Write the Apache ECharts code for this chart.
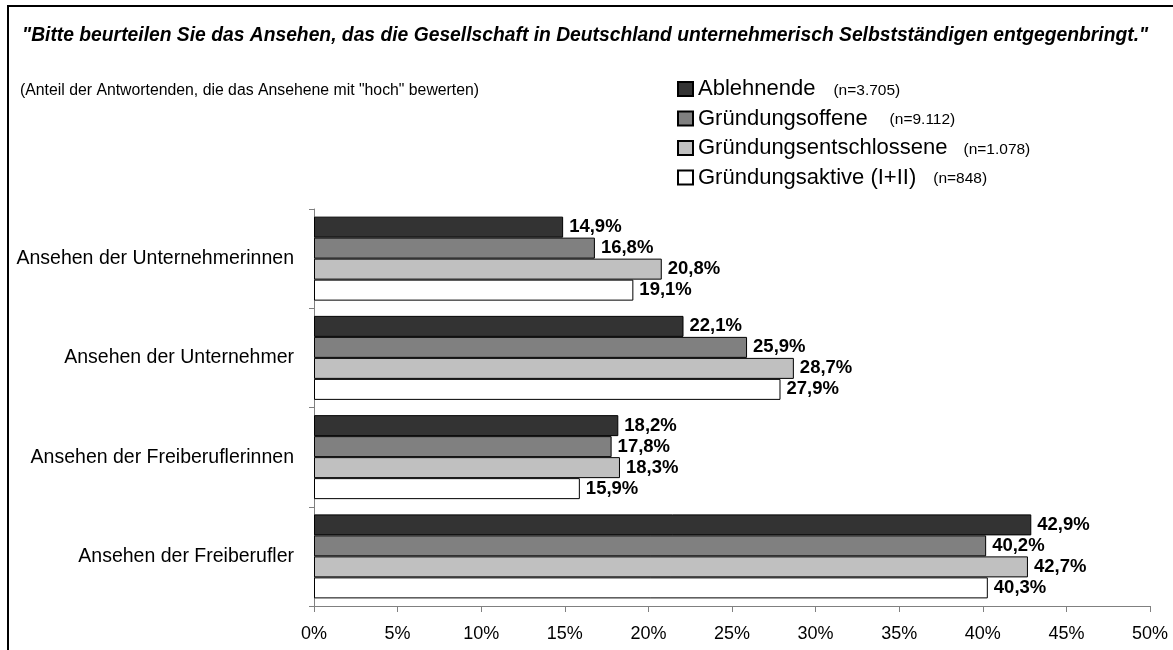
<!DOCTYPE html>
<html>
<head>
<meta charset="utf-8">
<title>Ansehen unternehmerisch Selbstständiger</title>
<script src="https://cdn.jsdelivr.net/npm/echarts@6/dist/echarts.min.js"></script>
<style>
  html, body { margin: 0; padding: 0; background: #fff; }
  #chart { width: 1173px; height: 650px; }
</style>
</head>
<body>
<div id="chart"></div>
<script>
// Kategorien (von oben nach unten)
var categories = [
  'Ansehen der Unternehmerinnen',
  'Ansehen der Unternehmer',
  'Ansehen der Freiberuflerinnen',
  'Ansehen der Freiberufler'
];
var seriesNames = ['Ablehnende', 'Gründungsoffene', 'Gründungsentschlossene', 'Gründungsaktive (I+II)'];
var sampleSizes = ['(n=3.705)', '(n=9.112)', '(n=1.078)', '(n=848)'];

// Anteile in %
var ablehnende = [14.9, 22.1, 18.2, 42.9];
var offene = [16.8, 25.9, 17.8, 40.2];
var entschlossene = [20.8, 28.7, 18.3, 42.7];
var aktive = [19.1, 27.9, 15.9, 40.3];

var xTicks = [0, 5, 10, 15, 20, 25, 30, 35, 40, 45, 50];

var FONT = 'Arial, "Liberation Sans", sans-serif';
var barColors = ['#333333', '#808080', '#c0c0c0', '#ffffff'];
var noteGaps = [18, 22, 16, 17];

var allValues = [ablehnende, offene, entschlossene, aktive];

function fmt(v) {
  return v.toFixed(1).replace('.', ',') + '%';
}

var chartInstance = echarts.init(document.getElementById('chart'));

var rich = { a: { fontSize: 22, fontFamily: FONT, color: '#000', lineHeight: 23 } };
for (var i = 0; i < sampleSizes.length; i++) {
  rich['n' + i] = { fontSize: 15.5, fontFamily: FONT, color: '#000', padding: [3, 0, 0, noteGaps[i]] };
}

var series = [];
for (var s = 0; s < seriesNames.length; s++) {
  series.push({
    name: seriesNames[s],
    type: 'bar',
    data: allValues[s],
    barWidth: 21,
    barGap: '0%',
    itemStyle: {
      color: barColors[s],
      borderColor: '#000',
      borderWidth: 1
    },
    label: {
      show: true,
      position: 'right',
      distance: 6,
      color: '#000',
      fontFamily: FONT,
      fontSize: 18.5,
      fontWeight: 'bold',
      formatter: function (p) { return fmt(p.value); }
    },
    emphasis: { disabled: true }
  });
}

var option = {
  backgroundColor: '#fff',
  animation: false,
  title: [
    {
      text: '"Bitte beurteilen Sie das Ansehen, das die Gesellschaft in Deutschland unternehmerisch Selbstständigen entgegenbringt."',
      left: 17,
      top: 21,
      textStyle: { fontFamily: FONT, fontSize: 19.3, fontWeight: 'bold', fontStyle: 'italic', color: '#000' }
    },
    {
      text: '(Anteil der Antwortenden, die das Ansehene mit "hoch" bewerten)',
      left: 15,
      top: 78,
      textStyle: { fontFamily: FONT, fontSize: 15.8, fontWeight: 'normal', color: '#000' }
    }
  ],
  legend: {
    orient: 'vertical',
    icon: 'rect',
    left: 677,
    top: 78,
    padding: 0,
    itemWidth: 15,
    itemHeight: 14,
    itemGap: 7.5,
    selectedMode: false,
    data: seriesNames,
    formatter: function (name) {
      var idx = seriesNames.indexOf(name);
      return '{a|' + name + '}{n' + idx + '|' + sampleSizes[idx] + '}';
    },
    textStyle: { rich: rich }
  },
  grid: {
    left: 314,
    right: 23,
    top: 209,
    bottom: 44,
    containLabel: false
  },
  xAxis: {
    type: 'value',
    min: xTicks[0],
    max: xTicks[xTicks.length - 1],
    interval: xTicks[1] - xTicks[0],
    splitLine: { show: false },
    axisLine: { show: true, lineStyle: { color: '#808080', width: 1 } },
    axisTick: { show: true, length: 6, lineStyle: { color: '#808080' } },
    axisLabel: {
      color: '#000',
      fontFamily: FONT,
      fontSize: 18,
      margin: 19,
      formatter: '{value}%'
    }
  },
  yAxis: {
    type: 'category',
    inverse: true,
    data: categories,
    axisLine: { show: true, lineStyle: { color: '#808080', width: 1 } },
    axisTick: { show: true, length: 5, lineStyle: { color: '#808080' } },
    axisLabel: {
      color: '#000',
      fontFamily: FONT,
      fontSize: 19.5,
      margin: 20,
      padding: [3, 0, 0, 0]
    }
  },
  graphic: [
    {
      type: 'rect',
      shape: { x: 8, y: 6, width: 1400, height: 900 },
      style: { fill: 'none', stroke: '#000', lineWidth: 2 },
      silent: true
    }
  ],
  series: series
};

chartInstance.setOption(option);
window.addEventListener('resize', function () { chartInstance.resize(); });
</script>
</body>
</html>
